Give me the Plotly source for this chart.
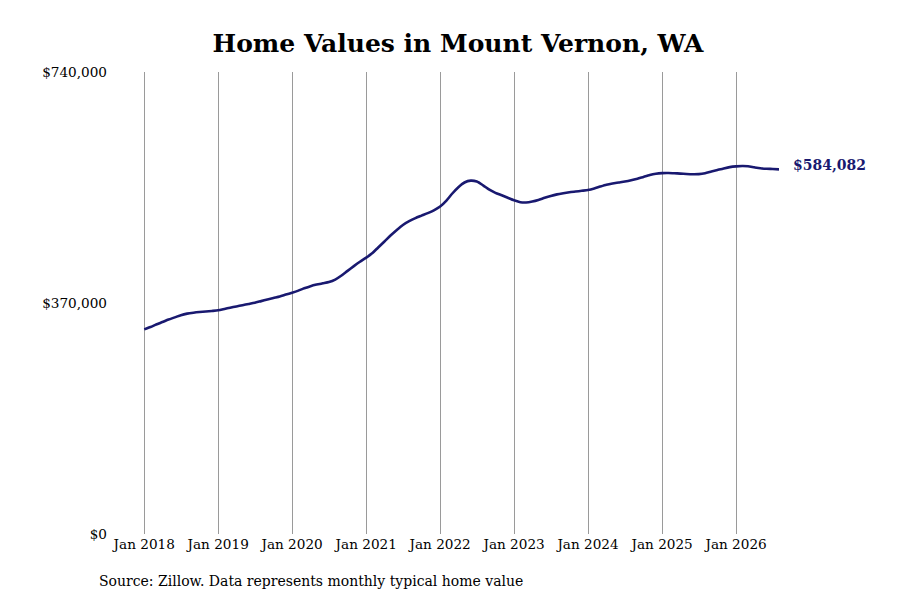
import plotly.graph_objects as go
import pandas as pd

# Monthly typical home value (thousands of dollars), Jan 2018 - Aug 2026
values_k = [
    # 2018
    327.8, 331.5, 335.5, 339.5, 343.5, 347.0, 350.5, 353.0, 354.5, 355.5, 356.3, 357.2,
    # 2019
    358.3, 360.5, 362.5, 364.5, 366.5, 368.5, 370.5, 373.0, 375.5, 378.0, 380.5, 383.5,
    # 2020
    386.5, 389.8, 393.5, 397.0, 399.5, 401.5, 403.5, 407.5, 414.0, 421.5, 429.0, 436.0,
    # 2021
    442.6, 450.0, 459.0, 468.5, 478.0, 487.0, 495.0, 501.0, 506.0, 510.0, 514.0, 518.5,
    # 2022
    524.5, 534.0, 545.0, 555.5, 563.0, 566.0, 564.5, 558.5, 551.5, 546.5, 542.5, 538.5,
    # 2023
    534.5, 531.5, 531.0, 532.5, 535.0, 538.5, 541.5, 544.0, 545.8, 547.3, 548.5, 549.7,
    # 2024
    551.0, 553.5, 556.5, 559.5, 561.5, 563.0, 564.5, 566.5, 569.0, 572.0, 575.0, 577.0,
    # 2025
    578.0, 578.2, 577.8, 577.3, 576.6, 576.2, 576.4, 577.8, 580.5, 583.0, 585.5, 587.6,
    # 2026
    588.8, 589.4, 589.0, 587.3, 585.8, 585.0, 584.6, 584.082,
]
values = [v * 1000 for v in values_k]
dates = pd.date_range("2018-01-01", periods=len(values), freq="MS")

y_ticks = [0, 370000, 740000]
y_tick_labels = ["$0", "$370,000", "$740,000"]

title_text = "Home Values in Mount Vernon, WA"
source_text = "Source: Zillow. Data represents monthly typical home value"
end_label = "${:,.0f}".format(values[-1])

navy = "#191970"
font_family = "DejaVu Serif"

fig = go.Figure()
fig.add_trace(go.Scatter(
    x=dates, y=values, mode="lines",
    line=dict(color=navy, width=2.6, shape="spline", smoothing=0.6),
    hoverinfo="skip", showlegend=False, cliponaxis=False,
))

fig.add_annotation(
    x=dates[-1], y=values[-1], xref="x", yref="y",
    text="<b>" + end_label + "</b>", showarrow=False,
    xanchor="left", yanchor="middle", xshift=12, yshift=4,
    font=dict(family=font_family, size=14, color=navy),
)
fig.add_annotation(
    x=-0.07, y=-0.102, xref="paper", yref="paper",
    text=source_text, showarrow=False,
    xanchor="left", yanchor="middle",
    font=dict(family=font_family, size=14, color="#000000"),
)

fig.update_layout(
    width=900, height=600,
    paper_bgcolor="white", plot_bgcolor="white",
    margin=dict(l=134, r=129, t=64, b=74),
    title=dict(text="<b>" + title_text + "</b>", x=0.5, xanchor="center",
               y=1 - 35 / 600, yref="container", yanchor="middle",
               font=dict(family=font_family, size=25, color="#000000")),
    xaxis=dict(
        type="date",
        range=["2017-12-21", dates[-1]],
        tick0="2018-01-01", dtick="M12", tickformat="%b %Y",
        showgrid=True, gridcolor="#9a9a9a", gridwidth=1,
        zeroline=False, showline=False, ticks="",
        tickfont=dict(family=font_family, size=13.6, color="#000000"),
        fixedrange=True,
    ),
    yaxis=dict(
        range=[0, 740000],
        tickvals=y_ticks, ticktext=y_tick_labels,
        showgrid=False, zeroline=False, showline=False, ticks="",
        ticklabelstandoff=34,
        tickfont=dict(family=font_family, size=13.6, color="#000000"),
        fixedrange=True,
    ),
)

fig.write_html("out.html")
